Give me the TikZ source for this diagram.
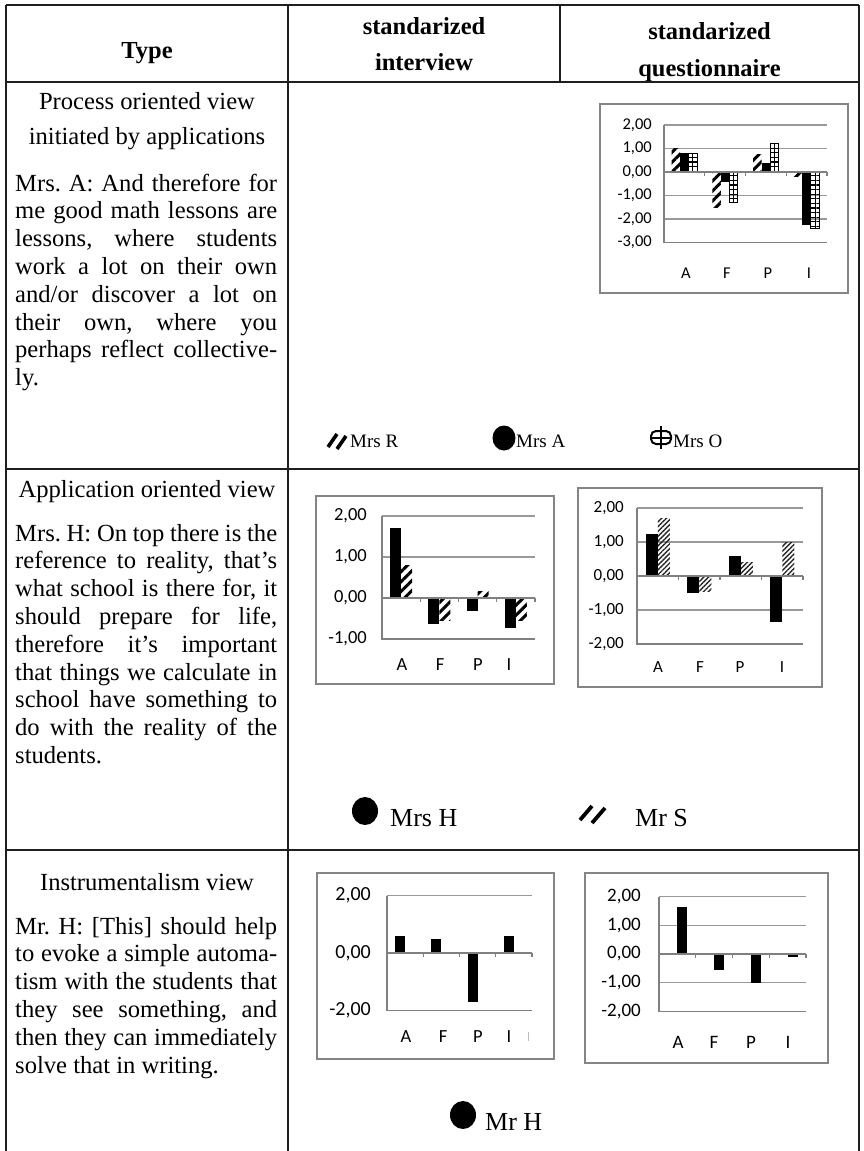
\documentclass[tikz,border=0pt]{standalone}
\usepackage{fontspec}
\setmainfont{Liberation Serif}
\newfontfamily\chartfont{Carlito}
\usetikzlibrary{patterns.meta}

\begin{document}
\frenchspacing
\begin{tikzpicture}[x=1pt,y=-1pt,
  tablerule/.style={line width=2.4pt,draw=black!88},
  framebox/.style={draw=black!48,line width=1.4pt},
  gridrule/.style={draw=black!40,line width=1.4pt},
  axisrule/.style={draw=black!50,line width=1.4pt},
  solidbar/.style={fill=black},
  thickhatch/.style={pattern={Lines[angle=45,distance=7pt,line width=3pt]},pattern color=black},
  finehatch/.style={pattern={Lines[angle=45,distance=3.4pt,line width=1.4pt]},pattern color=black!85},
  ladderbar/.style={pattern={Lines[angle=0,distance=4.6pt,line width=1.3pt]},pattern color=black,draw=black,line width=1pt},
  hdr/.style={font=\bfseries\fontsize{24.5}{28}\selectfont,anchor=base,inner sep=0pt},
  heading/.style={font=\fontsize{24.6}{27.8}\selectfont,anchor=base,inner sep=0pt},
  quote/.style={font=\fontsize{24.6}{27.8}\selectfont,anchor=base west,inner sep=0pt,text width=262pt,align=justify},
  legbig/.style={font=\fontsize{26}{28}\selectfont,anchor=base west,inner sep=0pt},
  legsmall/.style={font=\fontsize{19}{21}\selectfont,anchor=base west,inner sep=0pt},
  lbl/.style={font=\chartfont\fontsize{#1}{#1}\selectfont,anchor=east,inner sep=0pt},
  cat/.style={font=\chartfont\fontsize{#1}{#1}\selectfont,anchor=center,inner sep=0pt}
]
\useasboundingbox (0,0) rectangle (864,1151);

% ---------------- header ----------------
\node[hdr] (hType) at (147,58) {Type};
\node[hdr] (hInt1) at (424,34) {standarized};
\node[hdr] (hInt2) at (424,70) {interview};
\node[hdr] (hQue1) at (709.5,39) {standarized};
\node[hdr] (hQue2) at (709.5,76) {questionnaire};

% ---------------- first column texts ----------------
\node[heading] (t1a) at (147,109) {Process oriented view};
\node[heading] (t1b) at (147,144) {initiated by applications};
\node[quote] (q1) at (15,191) {Mrs. A: And therefore for\linebreak
 me good math lessons are\linebreak
 lessons, where students\linebreak
 work a lot on their own\linebreak
 and/or discover a lot on\linebreak
 their own, where you\linebreak
 perhaps reflect collective-\linebreak
 ly.};

\node[heading] (t2a) at (147,497) {Application oriented view};
\node[quote] (q2) at (15,541) {Mrs. H: On top there is the\linebreak
 reference to reality, that’s\linebreak
 what school is there for, it\linebreak
 should prepare for life,\linebreak
 therefore it’s important\linebreak
 that things we calculate in\linebreak
 school have something to\linebreak
 do with the reality of the\linebreak
 students.};

\node[heading] (t3a) at (147,890) {Instrumentalism view};
\node[quote] (q3) at (15,934) {Mr. H: [This] should help\linebreak
 to evoke a simple automa-\linebreak
 tism with the students that\linebreak
 they see something, and\linebreak
 then they can immediately\linebreak
 solve that in writing.};

% ---------------- row 1: questionnaire chart (three series) ----------------
\draw[framebox] (600,104) rectangle (848,293);
\foreach \v in {2,1,-1,-2}
  \draw[gridrule] (664,{172-23.5*\v}) -- (827,{172-23.5*\v});
\draw[axisrule] (664,{172-23.5*2}) -- (664,{172+23.5*3}) -- (827,{172+23.5*3});
\foreach \v/\t [count=\i] in {2/2{,}00,1/1{,}00,0/0{,}00,-1/-1{,}00,-2/-2{,}00,-3/-3{,}00}
  \node[lbl=16.5] (r1y\i) at (652,{172-23.5*\v}) {\t};
\foreach \c/\r/\a/\o in {684.4/1.0/0.8/0.77, 725.1/-1.53/-0.41/-1.3, 765.9/0.75/0.38/1.23, 806.6/-0.2/-2.25/-2.4}{
  \path[thickhatch] ({\c-12.75},172) rectangle ({\c-4.25},{172-23.5*\r});
  \path[solidbar] ({\c-4.25},172) rectangle ({\c+4.25},{172-23.5*\a});
  \draw[ladderbar] ({\c+4.25},172) rectangle ({\c+12.75},{172-23.5*\o});
  \draw[line width=1pt] ({\c+8.5},172) -- ({\c+8.5},{172-23.5*\o});
}
\draw[axisrule] (664,172) -- (827,172);
\foreach \k in {1,2,3,4}
  \draw[axisrule] ({664+40.75*\k},172) -- ({664+40.75*\k},176);
\foreach \x/\t [count=\i] in {686/A,727/F,768/P,809/I}
  \node[cat=16.5] (r1c\i) at (\x,273) {\t};

% row 1 legend
\draw[line width=3.6pt] (328,447) -- (337,434);
\draw[line width=3.6pt] (337,449) -- (346,436);
\node[legsmall] (l1r) at (350,447) {Mrs R};
\fill (504,438) ellipse (11.5pt and 12.5pt);
\node[legsmall] (l1a) at (516,447) {Mrs A};
\draw[line width=2pt,rounded corners=5pt] (651,431) rectangle (671,444);
\draw[line width=2pt] (651,437.5) -- (671,437.5);
\draw[line width=2pt] (661,426) -- (661,449);
\node[legsmall] (l1o) at (673,447) {Mrs O};

% ---------------- row 2: interview chart ----------------
\draw[framebox] (316,496) rectangle (554,684);
\foreach \v in {2,1}
  \draw[gridrule] (382,{598-41*\v}) -- (535,{598-41*\v});
\draw[axisrule] (382,{598-41*2}) -- (382,639) -- (535,639);
\foreach \v/\t [count=\i] in {2/2{,}00,1/1{,}00,0/0{,}00,-1/-1{,}00}
  \node[lbl=18.5] (r2ly\i) at (367,{598-41*\v}) {\t};
\foreach \c/\b/\h in {401.1/1.7/0.8, 439.4/-0.63/-0.55, 477.6/-0.32/0.15, 515.9/-0.73/-0.55}{
  \path[solidbar] ({\c-11},598) rectangle (\c,{598-41*\b});
  \path[thickhatch] (\c,598) rectangle ({\c+11},{598-41*\h});
}
\draw[axisrule] (382,598) -- (535,598);
\foreach \k in {1,2,3,4}
  \draw[axisrule] ({382+38.25*\k},598) -- ({382+38.25*\k},602);
\foreach \x/\t [count=\i] in {402/A,440/F,478/P,509/I}
  \node[cat=18.5] (r2lc\i) at (\x,665) {\t};

% ---------------- row 2: questionnaire chart ----------------
\draw[framebox] (578,488) rectangle (822,687);
\foreach \v in {2,1,-1}
  \draw[gridrule] (637,{576-34*\v}) -- (803,{576-34*\v});
\draw[axisrule] (637,{576-34*2}) -- (637,644) -- (803,644);
\foreach \v/\t [count=\i] in {2/2{,}00,1/1{,}00,0/0{,}00,-1/-1{,}00,-2/-2{,}00}
  \node[lbl=17] (r2ry\i) at (624,{576-34*\v}) {\t};
\foreach \c/\b/\h in {657.75/1.25/1.7, 699.25/-0.5/-0.45, 740.75/0.58/0.4, 782.25/-1.35/1.0}{
  \path[solidbar] ({\c-12},576) rectangle (\c,{576-34*\b});
  \path[finehatch] (\c,576) rectangle ({\c+12},{576-34*\h});
}
\draw[axisrule] (637,576) -- (803,576);
\foreach \k in {1,2,3,4}
  \draw[axisrule] ({637+41.5*\k},576) -- ({637+41.5*\k},580);
\foreach \x/\t [count=\i] in {658/A,700/F,740/P,782/I}
  \node[cat=17] (r2rc\i) at (\x,667) {\t};

% row 2 legend
\fill (365,811) ellipse (13pt and 14pt);
\node[legbig] (l2h) at (390,826) {Mrs H};
\draw[line width=3.8pt] (580,820) -- (592,806);
\draw[line width=3.8pt] (592,823) -- (605,808);
\node[legbig] (l2s) at (635,826) {Mr S};

% ---------------- row 3: interview chart ----------------
\draw[framebox] (317,873) rectangle (554,1059);
\draw[gridrule] (387,{953-28.75*2}) -- (532,{953-28.75*2});
\draw[axisrule] (387,{953-28.75*2}) -- (387,{953+28.75*2}) -- (532,{953+28.75*2});
\foreach \v/\t [count=\i] in {2/2{,}00,0/0{,}00,-2/-2{,}00}
  \node[lbl=20] (r3ly\i) at (371,{953-28.75*\v}) {\t};
\foreach \c/\b in {405.1/0.6, 441.4/0.5, 477.6/-1.7, 513.9/0.6}
  \path[solidbar] ({\c-10},953) rectangle (\c,{953-28.75*\b});
\draw[axisrule] (387,953) -- (532,953);
\foreach \k in {1,2,3,4}
  \draw[axisrule] ({387+36.25*\k},953) -- ({387+36.25*\k},957);
\foreach \x/\t [count=\i] in {406/A,443/F,478/P,509/I}
  \node[cat=18.5] (r3lc\i) at (\x,1037) {\t};
\draw[black!25,line width=1pt] (528,1032) -- (528,1041);

% ---------------- row 3: questionnaire chart ----------------
\draw[framebox] (585,873) rectangle (828,1063);
\foreach \v in {2,1,-1}
  \draw[gridrule] (659,{954-28.7*\v}) -- (806,{954-28.7*\v});
\draw[axisrule] (659,{954-28.7*2}) -- (659,{954+28.7*2}) -- (806,{954+28.7*2});
\foreach \v/\t [count=\i] in {2/2{,}00,1/1{,}00,0/0{,}00,-1/-1{,}00,-2/-2{,}00}
  \node[lbl=19] (r3ry\i) at (641,{954-28.7*\v}) {\t};
\foreach \c/\b in {677.4/1.65, 714.1/-0.55, 750.9/-1.0, 787.6/-0.12}
  \path[solidbar] (\c,954) rectangle ({\c+10},{954-28.7*\b});
\draw[axisrule] (659,954) -- (806,954);
\foreach \k in {1,2,3,4}
  \draw[axisrule] ({659+36.75*\k},954) -- ({659+36.75*\k},958);
\foreach \x/\t [count=\i] in {678/A,714/F,751/P,788/I}
  \node[cat=19] (r3rc\i) at (\x,1042) {\t};

% row 3 legend
\fill (463,1115) ellipse (13pt and 14pt);
\node[legbig] (l3h) at (485,1130) {Mr H};

% ---------------- table rules ----------------
\draw[tablerule] (6,5) -- (859,5);
\draw[tablerule] (6,82) -- (859,82);
\draw[tablerule] (6,469) -- (859,469);
\draw[tablerule] (6,850) -- (859,850);
\draw[tablerule] (6,5) -- (6,1151);
\draw[tablerule] (288,5) -- (288,1151);
\draw[tablerule] (560,5) -- (560,82);
\draw[tablerule] (859,5) -- (859,1151);
\end{tikzpicture}
\end{document}
